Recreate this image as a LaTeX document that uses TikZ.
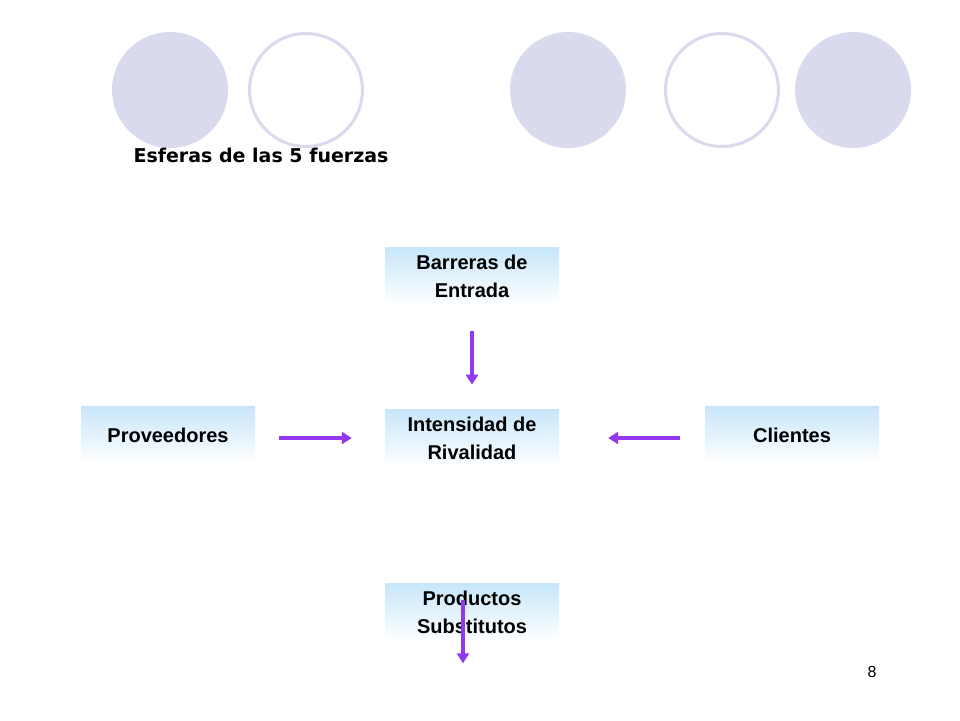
\documentclass[tikz,border=0pt]{standalone}
\usepackage{fontspec}
\setmainfont{Liberation Sans}
\newfontfamily\titlefont{DejaVu Sans}
\usetikzlibrary{positioning,arrows.meta}
\definecolor{lavender}{RGB}{218,218,238}
\definecolor{boxblue}{RGB}{200,230,250}
\definecolor{arrowpurple}{RGB}{146,56,240}
\tikzset{
    sphere/.style={circle, minimum size=116pt, inner sep=0pt},
    force/.style={minimum width=174pt, minimum height=57pt, inner sep=0pt,
        top color=boxblue, bottom color=white, align=center,
        font=\fontsize{20}{28}\selectfont\bfseries},
    push/.style={draw=arrowpurple, line width=4pt, -{Triangle[length=10pt,width=12pt]}}
}
\begin{document}
\begin{tikzpicture}[x=1pt,y=-1pt]
    \useasboundingbox (0,0) rectangle (960,720);
    % spheres
    \node[sphere, fill=lavender] (s1) at (170,90) {};
    \node[sphere, draw=lavender, line width=3pt, minimum size=113pt] (s2) at (306,90) {};
    \node[sphere, fill=lavender] (s3) at (568,90) {};
    \node[sphere, draw=lavender, line width=3pt, minimum size=113pt] (s4) at (722,90) {};
    \node[sphere, fill=lavender] (s5) at (853,90) {};
    \node[anchor=west, font=\titlefont\fontsize{19}{22}\selectfont\bfseries] (title) at (130,155) {Esferas de las 5 fuerzas};

    % forces
    \node[force] (rivalidad) at (472,438) {Intensidad de\\Rivalidad};
    \node[force] (barreras) at (472,276) {Barreras de\\Entrada};
    \node[force] (proveedores) at (168,435) {Proveedores};
    \node[force] (clientes) at (792,435) {Clientes};
    \node[force] (productos) at (472,612) {Productos\\Substitutos};

    \draw[push] ([yshift=-26pt]barreras.south) -- ([yshift=-80pt]barreras.south);
    \draw[push] ([xshift=24pt]proveedores.east |- rivalidad) -- ([xshift=-33pt]rivalidad.west);
    \draw[push] ([xshift=-25pt]clientes.west |- rivalidad) -- ([xshift=49pt]rivalidad.east);
    \draw[push] ([xshift=-9pt,yshift=-17pt]productos.north) -- ([xshift=-9pt,yshift=-80pt]productos.north);

    \node[font=\fontsize{16}{18}\selectfont] (page) at (872,672) {8};
\end{tikzpicture}
\end{document}
